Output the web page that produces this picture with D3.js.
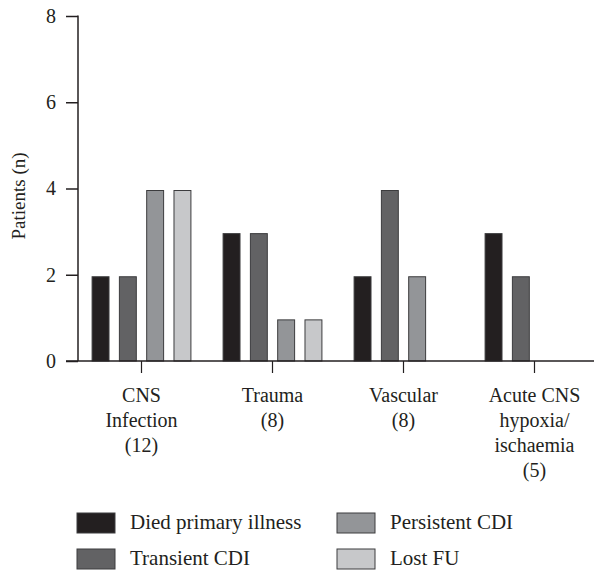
<!DOCTYPE html>
<html><head><meta charset="utf-8">
<script src="https://cdn.jsdelivr.net/npm/d3@7/dist/d3.min.js"></script>
<style>body{margin:0;background:#fff}svg{display:block}</style>
</head><body>
<svg id="c" width="594" height="571"></svg>
<script>
const categories = [["CNS","Infection","(12)"],["Trauma","(8)"],["Vascular","(8)"],["Acute CNS","hypoxia/","ischaemia","(5)"]];
const categoryKeys = ["CNS Infection","Trauma","Vascular","Acute CNS hypoxia/ischaemia"];
const seriesNames = ["Died primary illness","Transient CDI","Persistent CDI","Lost FU"];
const died = [2,3,2,3];
const transient = [2,3,4,2];
const persistent = [4,1,2,0];
const lostFU = [4,1,0,0];
const yTicks = [0,2,4,6,8];
const colors = ["#231f20","#626264","#939598","#c7c8ca"];

const seriesValues = [died, transient, persistent, lostFU];
const ink = "#231f20";
const FONT = '"Liberation Serif"';
const svg = d3.select("#c");

const y = d3.scaleLinear().domain([0,8]).range([361,16]);
const x0 = d3.scaleBand().domain(categoryKeys).range([76,600]);
const x1 = d3.scaleBand().domain(seriesNames).range([-54.6,54.6]).paddingInner(0.38).paddingOuter(0.19);

// bars
categoryKeys.forEach((c,ci)=>{
  const g = svg.append("g").attr("transform",`translate(${x0(c)+x0.bandwidth()/2},0)`);
  seriesNames.forEach((s,si)=>{
    const v = seriesValues[si][ci];
    if(v<=0) return;
    g.append("rect").attr("x",x1(s)).attr("width",x1.bandwidth())
      .attr("y",y(v)+2).attr("height",y(0)-y(v)-2)
      .attr("fill",colors[si]).attr("stroke","#3c3c3e").attr("stroke-width",1);
  });
});

// y axis
const ya = svg.append("g").attr("transform","translate(78,0)")
  .call(d3.axisLeft(y).tickValues(yTicks).tickSize(12).tickPadding(10).tickFormat(d3.format("d")));
ya.select(".domain").attr("stroke",ink).attr("stroke-width",1.5).attr("d","M0,361V15.5");
ya.selectAll(".tick line").attr("stroke",ink).attr("stroke-width",1.5);
ya.selectAll(".tick text").style("font-family",FONT).style("font-size","20px").attr("fill",ink);

// x axis
const xa = svg.append("g").attr("transform","translate(0,361)")
  .call(d3.axisBottom(x0).tickSize(12).tickFormat(""));
xa.select(".domain").attr("stroke",ink).attr("stroke-width",1.5).attr("d","M66,0H594");
xa.selectAll(".tick line").attr("stroke",ink).attr("stroke-width",1.2);
categoryKeys.forEach((c,ci)=>{
  const t = svg.append("text").attr("text-anchor","middle")
    .style("font-family",FONT).style("font-size","20px").attr("fill",ink);
  categories[ci].forEach((line,li)=>{
    t.append("tspan").attr("x",x0(c)+x0.bandwidth()/2).attr("y",402+li*25).text(line);
  });
});

// y label
svg.append("text").attr("transform","translate(25,196) rotate(-90)")
  .attr("text-anchor","middle").style("font-family",FONT).style("font-size","19px")
  .attr("fill",ink).text("Patients (n)");

// legend
const legPos = [[77,513],[77,549],[337,513],[337,549]];
seriesNames.forEach((s,i)=>{
  const [lx,ly] = legPos[i];
  svg.append("rect").attr("x",lx).attr("y",ly).attr("width",38).attr("height",20)
    .attr("fill",colors[i]).attr("stroke","#3c3c3e").attr("stroke-width",1);
  svg.append("text").attr("x",lx+53).attr("y",ly+16)
    .style("font-family",FONT).style("font-size","21px").attr("fill",ink).text(s);
});
</script>
</body></html>
